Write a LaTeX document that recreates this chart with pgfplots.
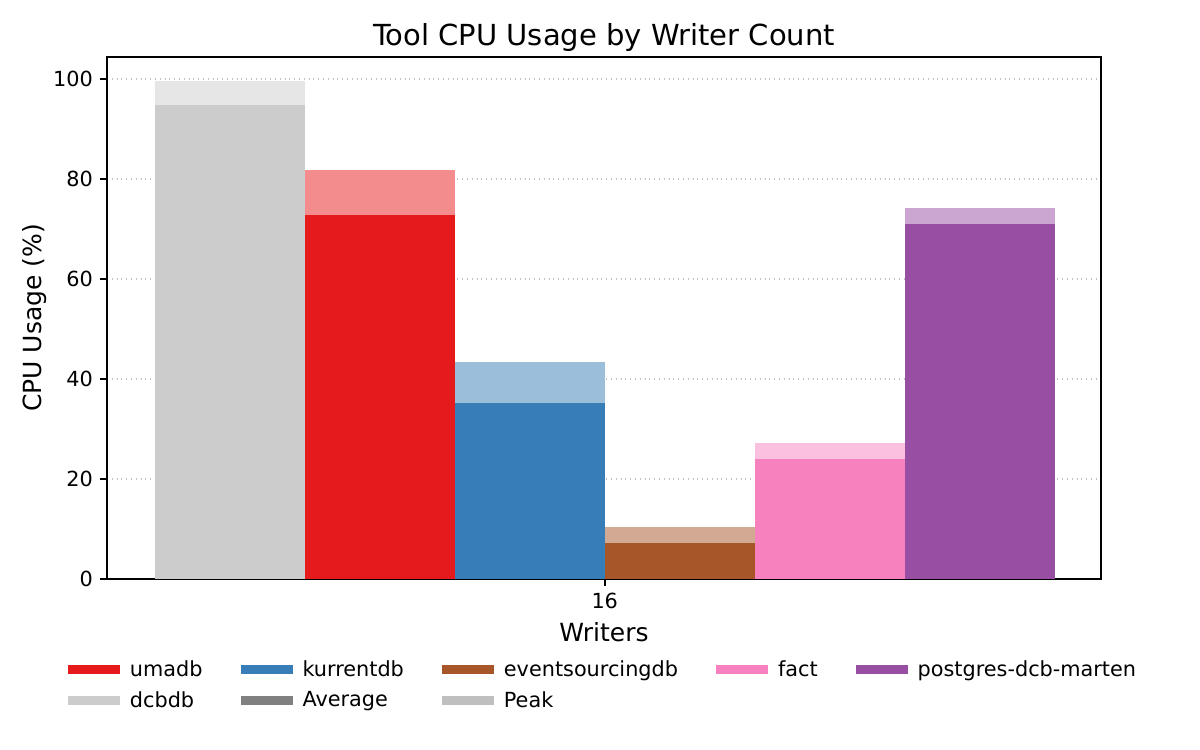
\documentclass[border=0pt]{standalone}
\usepackage{pgfplots}
\pgfplotsset{compat=1.18}
\usepackage{fontspec}
\setmainfont{DejaVu Sans}
\definecolor{cdcb}{HTML}{CCCCCC}
\definecolor{cuma}{HTML}{E41A1C}
\definecolor{ckur}{HTML}{377EB8}
\definecolor{cevs}{HTML}{A65628}
\definecolor{cfact}{HTML}{F781BF}
\definecolor{cpg}{HTML}{984EA3}
\definecolor{cavg}{HTML}{808080}
\definecolor{cpeak}{HTML}{BFBFBF}
\begin{document}
\begin{tikzpicture}
\path[use as bounding box] (-53.5pt,-85.5pt) rectangle (546.5pt,289.5pt);
\begin{axis}[
  scale only axis,
  width=497pt, height=261pt,
  xmin=-3.32, xmax=3.31,
  ymin=0, ymax=104.4,
  xtick={0}, xticklabels={16},
  ytick={0,20,40,60,80,100},
  /pgf/number format/assume math mode=true,
  tick align=outside,
  major tick length=3.5pt,
  tick style={line width=0.8pt, black},
  axis line style={line width=0.8pt},
  xtick pos=bottom, ytick pos=left,
  ymajorgrids,
  major grid style={dotted, line width=0.6pt, black!25},
  ticklabel style={font=\fontsize{10.4}{12}\selectfont},
  xlabel={Writers},
  ylabel={CPU Usage (\%)},
  label style={font=\fontsize{12.5}{14}\selectfont},
  xlabel style={yshift=0pt},
  ylabel style={yshift=-3.5pt},
  title={Tool CPU Usage by Writer Count},
  title style={font=\fontsize{14.5}{16}\selectfont, yshift=-7pt},
  legend columns=5,
  legend style={at={(0.5,-36.5pt)}, anchor=north, draw=none, fill=none,
    font=\fontsize{10.4}{12}\selectfont,
    /tikz/every odd column/.append style={column sep=3pt},
    /tikz/every even column/.append style={column sep=17pt},
    row sep=2pt},
  legend cell align=left,
  legend image code/.code={\fill[#1, draw=none] (0pt,-2.3pt) rectangle (26pt,2.3pt);},
]
% Peak bars (lighter)
\addplot[ybar, bar width=1, bar shift=0pt, draw=none, fill=cdcb!50!white, forget plot] coordinates {(-2.5,99.5)};
\addplot[ybar, bar width=1, bar shift=0pt, draw=none, fill=cuma!50!white, forget plot] coordinates {(-1.5,81.7)};
\addplot[ybar, bar width=1, bar shift=0pt, draw=none, fill=ckur!50!white, forget plot] coordinates {(-0.5,43.4)};
\addplot[ybar, bar width=1, bar shift=0pt, draw=none, fill=cevs!50!white, forget plot] coordinates {(0.5,10.4)};
\addplot[ybar, bar width=1, bar shift=0pt, draw=none, fill=cfact!50!white, forget plot] coordinates {(1.5,27.2)};
\addplot[ybar, bar width=1, bar shift=0pt, draw=none, fill=cpg!50!white, forget plot] coordinates {(2.5,74.1)};
% Average bars
\addplot[ybar, bar width=1, bar shift=0pt, draw=none, fill=cdcb, forget plot] coordinates {(-2.5,94.8)};
\addplot[ybar, bar width=1, bar shift=0pt, draw=none, fill=cuma, forget plot] coordinates {(-1.5,72.7)};
\addplot[ybar, bar width=1, bar shift=0pt, draw=none, fill=ckur, forget plot] coordinates {(-0.5,35.2)};
\addplot[ybar, bar width=1, bar shift=0pt, draw=none, fill=cevs, forget plot] coordinates {(0.5,7.2)};
\addplot[ybar, bar width=1, bar shift=0pt, draw=none, fill=cfact, forget plot] coordinates {(1.5,24.0)};
\addplot[ybar, bar width=1, bar shift=0pt, draw=none, fill=cpg, forget plot] coordinates {(2.5,71.0)};
% Legend
\addlegendimage{fill=cuma}\addlegendentry{umadb}
\addlegendimage{fill=ckur}\addlegendentry{kurrentdb}
\addlegendimage{fill=cevs}\addlegendentry{eventsourcingdb}
\addlegendimage{fill=cfact}\addlegendentry{fact}
\addlegendimage{fill=cpg}\addlegendentry{postgres-dcb-marten}
\addlegendimage{fill=cdcb}\addlegendentry{dcbdb}
\addlegendimage{fill=cavg}\addlegendentry{Average}
\addlegendimage{fill=cpeak}\addlegendentry{Peak}
\end{axis}
\end{tikzpicture}
\end{document}
